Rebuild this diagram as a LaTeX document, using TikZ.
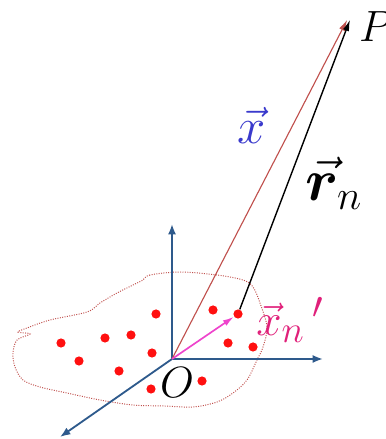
\documentclass[tikz,border=0pt]{standalone}
\usepackage{bm}
\usetikzlibrary{arrows.meta}
\definecolor{axisblue}{HTML}{2E5A8C}
\definecolor{rayred}{HTML}{C0504D}
\definecolor{dotred}{HTML}{FF1010}
\definecolor{pink}{HTML}{EE44CC}
\definecolor{labblue}{HTML}{3A3ACC}
\definecolor{labpink}{HTML}{E0207A}
\tikzset{
  axis/.style={-{Latex[length=2.6mm,width=2mm]},line width=1.3pt,axisblue},
  vec/.style={-{Latex[length=2.8mm,width=1.6mm]}},
  cloud/.style={rayred,densely dotted,line width=0.7pt},
  dot/.style={circle,fill=dotred,inner sep=0pt,minimum size=2.3mm},
  lab/.style={inner sep=0pt,font=\Huge}
}
\begin{document}
\begin{tikzpicture}
  \useasboundingbox (0,0) rectangle (9.65,10.975);
  \coordinate (O) at (4.3,2.0);
  \coordinate (zend) at (4.3,5.375);
  \coordinate (yend) at (8.075,2.0);
  \coordinate (xend) at (1.5,0.05);
  \coordinate (Pred) at (8.68,10.48);
  \coordinate (P) at (8.75,10.48);

  % point cloud outline
  \draw[cloud] plot[smooth cycle,tension=0.55] coordinates {
    (4.5,4.175) (3.75,4.1) (3.575,3.975) (3.325,3.85) (2.925,3.65)
    (2.5,3.4) (2.175,3.175) (1.25,2.975) (0.675,2.775) (0.45,2.675)
    (0.75,2.625) (0.425,2.475) (0.325,2.15) (0.375,1.8) (0.575,1.475)
    (1.0,1.3) (1.675,1.15) (2.5,0.975) (3.325,0.85) (4.125,0.825)
    (4.825,0.8) (5.425,0.925) (5.825,1.15) (6.175,1.475) (6.425,1.975)
    (6.575,2.3) (6.675,2.8) (6.5,3.4) (6.325,3.8) (6.075,3.975)
    (5.425,4.1)};

  \draw[axis] (O) -- (zend);
  \draw[axis] (O) -- (yend);
  \draw[axis] (O) -- (xend);

  \foreach \p [count=\i] in {(3.9,3.125),(5.325,3.225),(1.525,2.4),
      (2.625,2.525),(3.275,2.6),(3.8,2.15),(1.975,1.95),(5.7,2.4),
      (6.325,2.3),(2.975,1.7),(3.775,1.25),(5.05,1.45)}
    \node[dot] (d\i) at \p {};
  \node[dot] (xn) at (5.95,3.125) {};

  \draw[vec,rayred,line width=0.8pt] (O) -- (Pred);
  \draw[vec,black,line width=1pt] (xn) -- (P);
  \draw[vec,pink,line width=1.2pt] (O) -- (xn);

  \node[lab] (Plab) at (9.4,10.3) {\scalebox{1.25}{$P$}};
  \node[lab] (Olab) at (4.425,1.4) {\scalebox{1.25}{$O$}};
  \node[lab,text=labblue] (xlab) at (6.3,7.85) {\scalebox{1.45}{$\vec{x}$}};
  \node[lab] (rlab) at (8.35,6.4)
    {\scalebox{1.7}{$\vec{\bm{r}}_{\scriptscriptstyle n}$}};
  \node[lab,text=labpink,anchor=west] (xnlab) at (6.4,2.975)
    {\scalebox{1.3}{$\vec{x}_n\,\mathrm{'}$}};
\end{tikzpicture}
\end{document}
